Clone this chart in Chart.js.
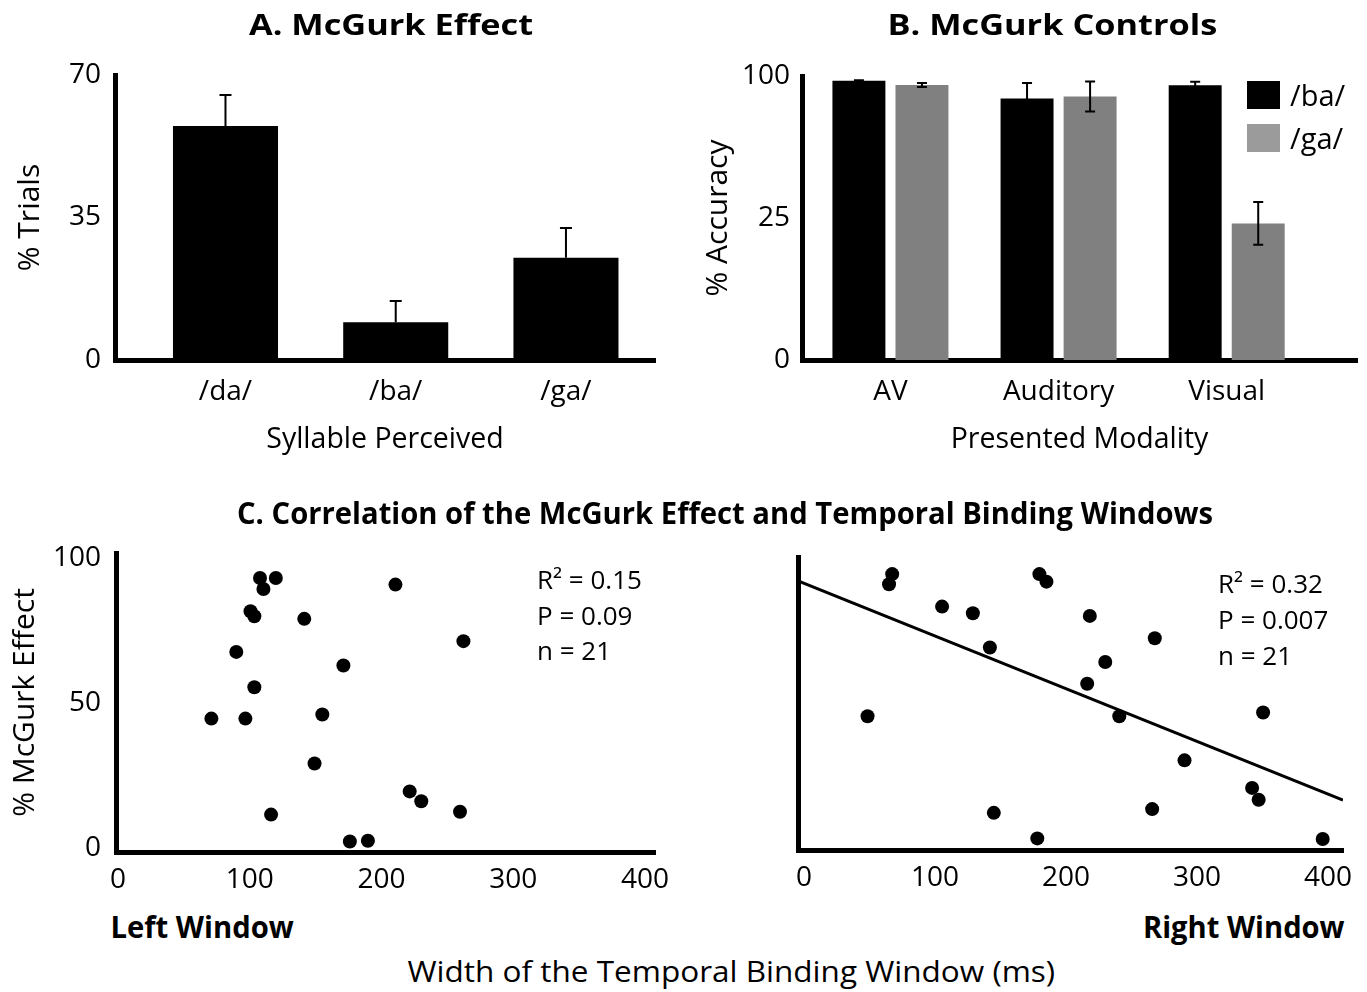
<!DOCTYPE html>
<html lang="en">
<head>
<meta charset="UTF-8" />
<title>McGurk Effect and Temporal Binding Windows</title>
<script src="https://cdn.jsdelivr.net/npm/chart.js"></script>
<style>
  body { margin: 0; background: #fff; }
  #fig { position: relative; width: 1367px; height: 992px; font-family: 'Open Sans', sans-serif; color: #000; overflow: hidden; }
  #fig canvas { position: absolute; }
  .txt { position: absolute; white-space: nowrap; line-height: 1; }
  .legend-row { position: absolute; display: flex; align-items: center; font-size: 29px; line-height: 1; }
  .swatch { width: 33px; height: 28px; margin-right: 10px; }
</style>
</head>
<body>
<div id="fig">
  <canvas id="chartA" width="683" height="470" style="left:0;top:0"></canvas>
  <canvas id="chartB" width="684" height="470" style="left:683px;top:0"></canvas>
  <canvas id="chartL" width="683" height="425" style="left:0;top:480px"></canvas>
  <canvas id="chartR" width="684" height="425" style="left:683px;top:480px"></canvas>
</div>
<script>
// A. McGurk effect - % of trials for each perceived syllable
const syllables = ['/da/', '/ba/', '/ga/'];
const trialsPct = [57.5, 9.3, 25.1];
const trialsErr = [7.6, 5.2, 7.3];
const trialsTicks = [0, 35, 70];

// B. McGurk controls - accuracy by presented modality
const modalities = ['AV', 'Auditory', 'Visual'];
const accBa = [98.3, 92.1, 96.7];
const accBaErr = [0.2, 5.4, 1.3];
const accGa = [96.8, 92.8, 48.1];
const accGaErr = [0.7, 5.3, 7.5];
const accTickValues = [0, 50, 100];
const accTickLabels = ['0', '25', '100'];

// C. McGurk effect vs width of the temporal binding window (ms)
const leftWidth = [107.8, 119.8, 110.4, 210.6, 100.6, 103.5, 141.4, 262.2, 89.8, 171.1, 103.5, 70.9, 96.7, 155.1, 149.2, 221.4, 230.2, 259.6, 116.2, 176.0, 189.7];
const leftMcGurk = [93.1, 93.1, 89.3, 90.8, 81.6, 79.9, 79.0, 71.3, 67.6, 62.9, 55.4, 44.6, 44.6, 46.0, 29.1, 19.5, 16.1, 12.5, 11.5, 2.2, 2.5];
const rightWidth = [67.3, 64.9, 179.7, 185.1, 105.4, 128.9, 218.2, 141.9, 267.8, 230.0, 216.2, 48.5, 240.7, 350.5, 290.5, 342.1, 347.1, 265.8, 144.9, 178.1, 396.0];
const rightMcGurk = [94.4, 90.9, 94.4, 91.8, 83.2, 80.9, 80.0, 69.1, 72.3, 64.1, 56.6, 45.4, 45.4, 46.7, 30.2, 20.7, 16.6, 13.4, 12.1, 3.3, 3.1];
const rightFit = { intercept: 91.2, slope: -0.1815 };
const widthTicks = [0, 100, 200, 300, 400];
const mcgurkTicks = [0, 50, 100];
const leftStats = ['R\u00b2 = 0.15', 'P = 0.09', 'n = 21'];
const rightStats = ['R\u00b2 = 0.32', 'P = 0.007', 'n = 21'];

Chart.defaults.font.family = "'Open Sans', sans-serif";
Chart.defaults.color = '#000';
Chart.defaults.animation = false;

const fig = document.getElementById('fig');

// error bars drawn with the chart's own y scale
const errorBars = {
  id: 'errorBars',
  afterDatasetsDraw(chart, args, opts) {
    const ctx = chart.ctx;
    const y = chart.scales.y;
    chart.data.datasets.forEach((ds, di) => {
      if (!ds.errors) return;
      chart.getDatasetMeta(di).data.forEach((bar, i) => {
        const v = ds.data[i].y;
        const e = ds.errors[i];
        const top = y.getPixelForValue(v + e);
        const bottom = opts.upOnly ? bar.y : y.getPixelForValue(v - e);
        ctx.save();
        ctx.strokeStyle = '#000';
        ctx.lineWidth = opts.width;
        ctx.beginPath();
        ctx.moveTo(bar.x, bottom);
        ctx.lineTo(bar.x, top);
        ctx.moveTo(bar.x - opts.cap, top);
        ctx.lineTo(bar.x + opts.cap, top);
        if (!opts.upOnly) {
          ctx.moveTo(bar.x - opts.cap, bottom);
          ctx.lineTo(bar.x + opts.cap, bottom);
        }
        ctx.stroke();
        ctx.restore();
      });
    });
  }
};

const noGrid = { display: false, drawTicks: false };
const thickBorder = { display: true, color: '#000', width: 5 };
const tickFont = { size: 28 };
const xTitleFont = { size: 28.5 };
const yTitleFont = { size: 30 };

// A
new Chart(document.getElementById('chartA'), {
  type: 'bar',
  data: {
    datasets: [{
      data: trialsPct.map((v, i) => ({ x: i + 1, y: v })),
      errors: trialsErr,
      backgroundColor: '#000',
      categoryPercentage: 1,
      barPercentage: 0.617
    }]
  },
  options: {
    responsive: false,
    layout: { padding: { top: 75, right: 28, left: 0, bottom: 0 } },
    plugins: { legend: { display: false }, tooltip: { enabled: false }, errorBars: { upOnly: true, cap: 6, width: 2 } },
    scales: {
      x: {
        type: 'linear', min: 0.351, max: 3.523, offset: false,
        grid: noGrid, border: thickBorder,
        afterBuildTicks: s => { s.ticks = syllables.map((_, i) => ({ value: i + 1 })); },
        ticks: { font: tickFont, padding: 15, maxRotation: 0, callback: v => syllables[v - 1] },
        title: { display: true, text: 'Syllable Perceived', font: xTitleFont, padding: { top: 0, bottom: 13 } },
        afterFit: s => { s.height = 110; }
      },
      y: {
        min: 0, max: 70,
        grid: noGrid, border: thickBorder,
        afterBuildTicks: s => { s.ticks = trialsTicks.map(v => ({ value: v })); },
        ticks: { font: tickFont, padding: 14 },
        title: { display: true, text: '% Trials', font: yTitleFont, padding: { top: 12, bottom: 0 } },
        afterFit: s => { s.width = 115; }
      }
    }
  },
  plugins: [errorBars]
});

// B
const chartB = new Chart(document.getElementById('chartB'), {
  type: 'bar',
  data: {
    datasets: [
      { label: '/ba/', data: accBa.map((v, i) => ({ x: i + 1, y: v })), errors: accBaErr, backgroundColor: '#000', categoryPercentage: 0.75, barPercentage: 0.84 },
      { label: '/ga/', data: accGa.map((v, i) => ({ x: i + 1, y: v })), errors: accGaErr, backgroundColor: '#808080', categoryPercentage: 0.75, barPercentage: 0.84 }
    ]
  },
  options: {
    responsive: false,
    layout: { padding: { top: 76, right: 10, left: 0, bottom: 0 } },
    plugins: { legend: { display: false }, tooltip: { enabled: false }, errorBars: { upOnly: false, cap: 5, width: 2 } },
    scales: {
      x: {
        type: 'linear', min: 0.474, max: 3.775, offset: false,
        grid: noGrid, border: thickBorder,
        afterBuildTicks: s => { s.ticks = modalities.map((_, i) => ({ value: i + 1 })); },
        ticks: { font: tickFont, padding: 15, maxRotation: 0, callback: v => modalities[v - 1] },
        title: { display: true, text: 'Presented Modality', font: xTitleFont, padding: { top: 0, bottom: 13 } },
        afterFit: s => { s.height = 110; }
      },
      y: {
        min: 0, max: 100,
        grid: noGrid, border: thickBorder,
        afterBuildTicks: s => { s.ticks = accTickValues.map(v => ({ value: v })); },
        ticks: { font: tickFont, padding: 12, callback: (v, i) => accTickLabels[i] },
        title: { display: true, text: '% Accuracy', font: yTitleFont, padding: { top: 17, bottom: 0 } },
        afterFit: s => { s.width = 119; }
      }
    }
  },
  plugins: [errorBars]
});

// legend for B, built from its datasets
const legendSwatch = ['#000000', '#9b9b9b'];
chartB.data.datasets.forEach((ds, i) => {
  const row = document.createElement('div');
  row.className = 'legend-row';
  row.style.left = '1247px';
  row.style.top = (80 + i * 43) + 'px';
  const sw = document.createElement('div');
  sw.className = 'swatch';
  sw.style.background = legendSwatch[i];
  const lab = document.createElement('span');
  lab.textContent = ds.label;
  row.appendChild(sw);
  row.appendChild(lab);
  fig.appendChild(row);
});

// C - scatter panels
function scatterOptions(o) {
  return {
    responsive: false,
    layout: { padding: { top: o.top, right: o.right, left: 0, bottom: 0 } },
    plugins: { legend: { display: false }, tooltip: { enabled: false } },
    scales: {
      x: {
        type: 'linear', min: o.xmin, max: o.xmax,
        grid: noGrid, border: thickBorder,
        afterBuildTicks: s => { s.ticks = widthTicks.map(v => ({ value: v })); },
        ticks: { font: tickFont, padding: 11, maxRotation: 0 },
        afterFit: s => { s.height = o.xh; }
      },
      y: {
        type: 'linear', min: o.ymin, max: o.ymax,
        grid: noGrid, border: thickBorder,
        afterBuildTicks: s => { s.ticks = mcgurkTicks.map(v => ({ value: v })); },
        ticks: { display: o.yTicks, font: tickFont, padding: 15 },
        title: { display: o.yTicks, text: '% McGurk Effect', font: yTitleFont, padding: { top: 7, bottom: 0 } },
        afterFit: s => { s.width = o.left; }
      }
    }
  };
}

new Chart(document.getElementById('chartL'), {
  type: 'scatter',
  data: {
    datasets: [{
      data: leftWidth.map((x, i) => ({ x, y: leftMcGurk[i] })),
      backgroundColor: '#000', borderWidth: 0, pointRadius: 7
    }]
  },
  options: scatterOptions({ top: 73, right: 28, left: 116, xh: 53, xmin: -1.5, xmax: 407.6, ymin: -1.4, ymax: 101.7, yTicks: true })
});

const rXmin = -4.6, rXmax = 411.5;
new Chart(document.getElementById('chartR'), {
  type: 'scatter',
  data: {
    datasets: [
      {
        data: rightWidth.map((x, i) => ({ x, y: rightMcGurk[i] })),
        backgroundColor: '#000', borderWidth: 0, pointRadius: 7
      },
      {
        type: 'line',
        data: [rXmin, rXmax].map(x => ({ x, y: rightFit.intercept + rightFit.slope * x })),
        borderColor: '#000', borderWidth: 3, pointRadius: 0, fill: false
      }
    ]
  },
  options: scatterOptions({ top: 77, right: 24, left: 115, xh: 55, xmin: rXmin, xmax: rXmax, ymin: -0.7, ymax: 100.3, yTicks: false })
});

// titles and labels
function addText(str, o) {
  const el = document.createElement('div');
  el.className = 'txt';
  el.textContent = str;
  el.style.font = o.font;
  fig.appendChild(el);
  const w = el.offsetWidth;
  const h = el.offsetHeight;
  let left, origin, k = 1;
  if (o.x1 !== undefined) {
    k = (o.x1 - o.x0) / w;
    left = (o.x0 + o.x1) / 2 - w / 2;
    origin = '50% 50%';
  } else {
    left = o.x;
    origin = '0 50%';
  }
  el.style.left = left + 'px';
  el.style.top = (o.y - h / 2) + 'px';
  el.style.transformOrigin = origin;
  el.style.transform = 'scaleX(' + k + ')';
}

const boldFont = "700 29px 'Open Sans', sans-serif";
addText('A. McGurk Effect', { x0: 249, x1: 533, y: 23, font: boldFont });
addText('B. McGurk Controls', { x0: 887, x1: 1217, y: 23, font: boldFont });
addText('C. Correlation of the McGurk Effect and Temporal Binding Windows', { x0: 237, x1: 1213, y: 512, font: "700 30px 'Open Sans', sans-serif" });
addText('Left Window', { x0: 110, x1: 293, y: 926, font: "700 30px 'Open Sans', sans-serif" });
addText('Right Window', { x0: 1143, x1: 1345, y: 926, font: "700 30px 'Open Sans', sans-serif" });
addText('Width of the Temporal Binding Window (ms)', { x0: 407, x1: 1055, y: 970, font: "400 30px 'Open Sans', sans-serif" });

leftStats.forEach((s, i) => addText(s, { x: 537, y: 579 + i * 35.5, font: "400 26px 'Open Sans', sans-serif" }));
rightStats.forEach((s, i) => addText(s, { x: 1218, y: 583 + i * 36, font: "400 26px 'Open Sans', sans-serif" }));
</script>
</body>
</html>
